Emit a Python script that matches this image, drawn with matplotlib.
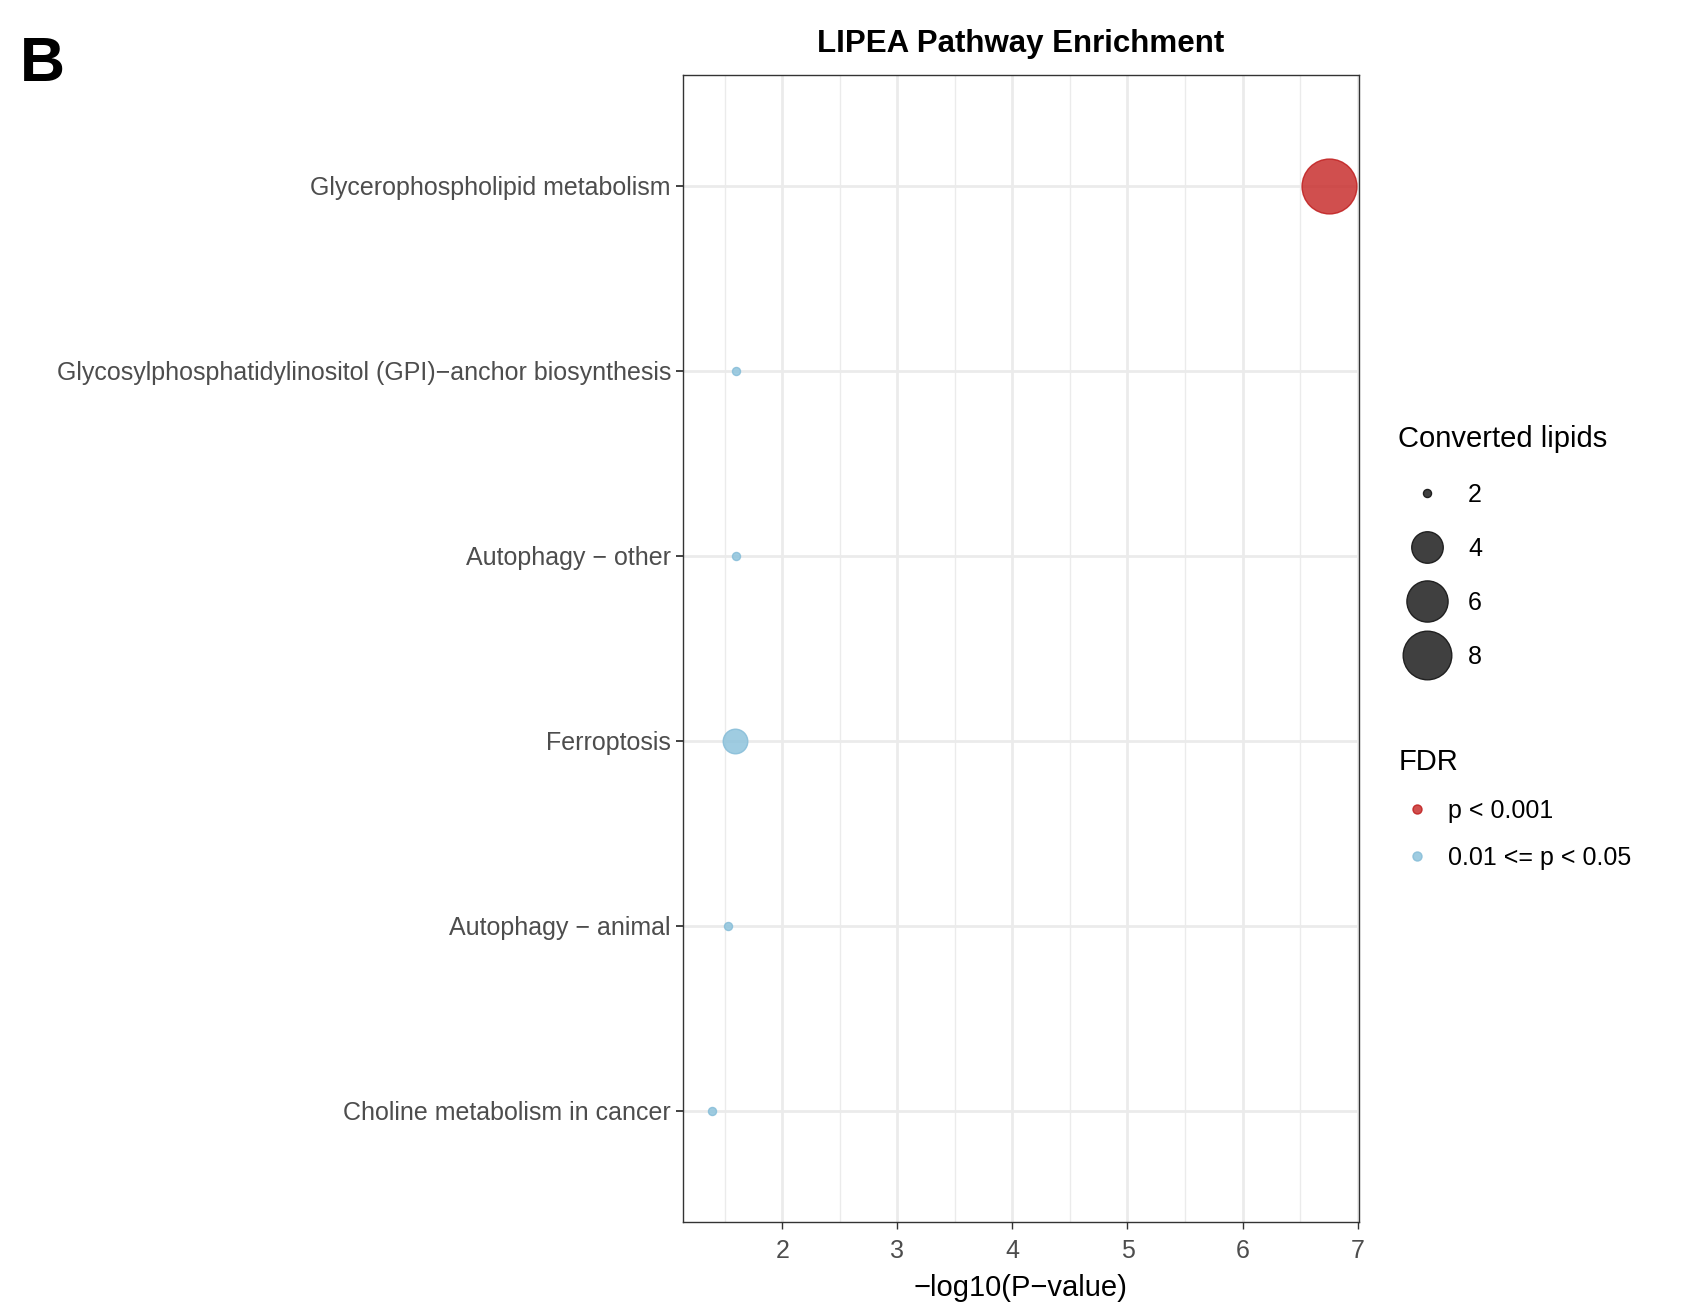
import numpy as np
import matplotlib.pyplot as plt
from matplotlib.lines import Line2D

plt.rcParams['font.family'] = ['Liberation Sans', 'DejaVu Sans']

# pathway results, bottom to top
pathways = [
    'Choline metabolism in cancer',
    'Autophagy \u2212 animal',
    'Ferroptosis',
    'Autophagy \u2212 other',
    'Glycosylphosphatidylinositol (GPI)\u2212anchor biosynthesis',
    'Glycerophospholipid metabolism',
]
neg_log_p = [1.39, 1.53, 1.59, 1.60, 1.60, 6.75]
converted = [2, 2, 3, 2, 2, 10]
fdr_group = ['mid', 'mid', 'mid', 'mid', 'mid', 'low']

fdr_labels = {'low': 'p < 0.001', 'mid': '0.01 <= p < 0.05'}
fdr_face = {'low': '#C8302F', 'mid': '#8EC3DC'}
fdr_edge = {'low': '#C01E1E', 'mid': '#86BDD8'}
size_breaks = [2, 4, 6, 8]

# ggplot-style area scale: diameter grows with sqrt of rescaled value
d_min, d_max = 5.8, 39.5
v_min, v_max = min(converted), max(converted)


def diam(v):
    t = (v - v_min) / (v_max - v_min)
    return d_min + (d_max - d_min) * np.sqrt(t)


fig = plt.figure(figsize=(16.9, 13.11), dpi=100)
ax = fig.add_axes([0.404, 0.068, 0.400, 0.875])

y = np.arange(1, len(pathways) + 1)
for yi, xi, ci, gi in zip(y, neg_log_p, converted, fdr_group):
    ax.scatter(xi, yi, s=diam(ci) ** 2, color=fdr_face[gi], edgecolors=fdr_edge[gi],
               linewidths=1.0, alpha=0.85, zorder=3)

ax.set_xlim(1.135, 7.01)
ax.set_ylim(0.4, 6.6)
ax.set_yticks(y)
ax.set_yticklabels(pathways, fontsize=18, color='#4D4D4D')
ax.set_xticks([2, 3, 4, 5, 6, 7])
ax.set_xticks(np.arange(1.5, 7.0, 1.0), minor=True)
ax.tick_params(axis='x', labelsize=18, labelcolor='#4D4D4D', color='#333333',
               length=5, width=1, pad=7)
ax.tick_params(axis='y', color='#333333', length=5, width=1.3)
ax.tick_params(axis='x', which='minor', length=0)

ax.grid(True, which='major', color='#EBEBEB', linewidth=2.0, zorder=0)
ax.grid(True, which='minor', axis='x', color='#EBEBEB', linewidth=1.0, zorder=0)
ax.set_axisbelow(True)
for sp in ax.spines.values():
    sp.set_color('#333333')
    sp.set_linewidth(1.0)

ax.set_xlabel('\u2212log10(P\u2212value)', fontsize=21, labelpad=8.5)
ax.set_title('LIPEA Pathway Enrichment', fontsize=22.5, fontweight='bold', pad=16.5)

fig.text(0.012, 0.973, 'B', fontsize=45, fontweight='bold', va='top', ha='left')

# size legend
size_handles = [Line2D([], [], linestyle='none', marker='o', markersize=diam(v),
                       markerfacecolor='#404040', markeredgecolor='#202020', markeredgewidth=1.0)
                for v in size_breaks]
leg1 = fig.legend(size_handles, [str(v) for v in size_breaks], title='Converted lipids',
                  loc='upper left', bbox_to_anchor=(0.817, 0.689), frameon=False,
                  fontsize=18, title_fontsize=21, labelspacing=1.2, handlelength=2.3,
                  handletextpad=0.5, borderpad=0.2)
leg1._legend_box.align = 'left'

# FDR legend
fdr_handles = [Line2D([], [], linestyle='none', marker='o', markersize=6.5,
                      markerfacecolor=fdr_face[k], markeredgecolor=fdr_edge[k], alpha=0.85)
               for k in ['low', 'mid']]
leg2 = fig.legend(fdr_handles, [fdr_labels[k] for k in ['low', 'mid']], title='FDR',
                  loc='upper left', bbox_to_anchor=(0.817, 0.443), frameon=False,
                  fontsize=18, title_fontsize=21, labelspacing=0.92, handlelength=1.5,
                  handletextpad=0.5, borderpad=0.2)
leg2._legend_box.align = 'left'

fig.savefig('out.png', dpi=100)
